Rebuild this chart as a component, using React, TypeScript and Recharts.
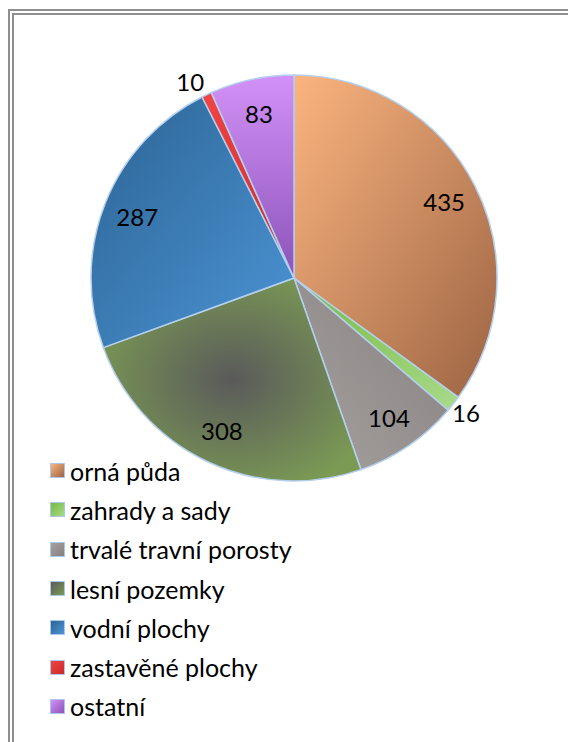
import { PieChart, Pie, Cell } from "recharts"

const categories = [
  "orná půda",
  "zahrady a sady",
  "trvalé travní porosty",
  "lesní pozemky",
  "vodní plochy",
  "zastavěné plochy",
  "ostatní",
]
const values = [435, 16, 104, 308, 287, 10, 83]

// gradient stops per slice: [start, end]
const sliceColors = [
  ["#FBB47F", "#9C6443"],
  ["#74BA40", "#A9DA8A"],
  ["#A5A19F", "#868180"],
  ["#5A5A5A", "#7B9B54"],
  ["#2C6494", "#4C94D5"],
  ["#F24444", "#CC2828"],
  ["#D291F7", "#8B53B8"],
]

const data = categories.map((name, i) => ({ name, value: values[i] }))

const FONT = "Lato, 'Noto Sans', sans-serif"
const RADIAN = Math.PI / 180

const renderLabel = ({ cx, cy, midAngle, outerRadius, percent, value }: any) => {
  const cos = Math.cos(-midAngle * RADIAN)
  const sin = Math.sin(-midAngle * RADIAN)
  if (percent < 0.02) {
    // small slices: label sits just outside the rim
    const r = outerRadius + 1
    const x = cx + r * cos
    const y = cy + r * sin
    return (
      <text
        x={x - 2}
        y={sin >= 0 ? y + 8 : y - 12}
        fill="#000"
        textAnchor={cos >= 0 ? "start" : "end"}
        dominantBaseline="central"
        style={{ fontFamily: FONT, fontSize: 24 }}
      >
        {value}
      </text>
    )
  }
  const r = outerRadius * 0.83
  return (
    <text
      x={cx + r * cos}
      y={cy + r * sin}
      fill="#000"
      textAnchor="middle"
      dominantBaseline="central"
      style={{ fontFamily: FONT, fontSize: 24 }}
    >
      {value}
    </text>
  )
}

function ChartLegend() {
  return (
    <div style={{ position: "absolute", left: 50, top: 451, fontFamily: FONT, fontSize: 25, color: "#000" }}>
      {categories.map((name, i) => (
        <div key={name} style={{ display: "flex", alignItems: "center", height: 39.3, whiteSpace: "nowrap" }}>
          <div
            style={{
              width: 13,
              height: 13,
              border: "1.5px solid #A9C8EA",
              background: `linear-gradient(135deg, ${sliceColors[i][0]}, ${sliceColors[i][1]})`,
              marginRight: 5,
              boxSizing: "content-box",
            }}
          />
          <span>{name}</span>
        </div>
      ))}
    </div>
  )
}

export default function App() {
  return (
    <div style={{ position: "fixed", left: 0, top: 0, width: 568, height: 742, background: "#fff", overflow: "hidden" }}>
      <div
        style={{
          position: "absolute",
          left: 8,
          top: 9,
          width: 600,
          height: 800,
          borderTop: "6px double #8E8E8E",
          borderLeft: "6px double #8E8E8E",
        }}
      />
      <div style={{ position: "absolute", left: 0, top: 0 }}>
        <PieChart width={568} height={742} margin={{ top: 0, right: 0, bottom: 0, left: 0 }}>
          <defs>
            <linearGradient id="g0" x1="0" y1="0" x2="1" y2="1">
              <stop offset="0%" stopColor={sliceColors[0][0]} />
              <stop offset="100%" stopColor={sliceColors[0][1]} />
            </linearGradient>
            <linearGradient id="g1" x1="0" y1="0" x2="1" y2="1">
              <stop offset="0%" stopColor={sliceColors[1][0]} />
              <stop offset="100%" stopColor={sliceColors[1][1]} />
            </linearGradient>
            <linearGradient id="g2" x1="1" y1="0" x2="0" y2="1">
              <stop offset="0%" stopColor={sliceColors[2][1]} />
              <stop offset="100%" stopColor={sliceColors[2][0]} />
            </linearGradient>
            <radialGradient id="g3" cx="0.5" cy="0.5" r="0.6">
              <stop offset="0%" stopColor={sliceColors[3][0]} />
              <stop offset="100%" stopColor={sliceColors[3][1]} />
            </radialGradient>
            <linearGradient id="g4" x1="0" y1="0" x2="1" y2="1">
              <stop offset="0%" stopColor={sliceColors[4][0]} />
              <stop offset="100%" stopColor={sliceColors[4][1]} />
            </linearGradient>
            <linearGradient id="g5" x1="0" y1="0" x2="1" y2="1">
              <stop offset="0%" stopColor={sliceColors[5][0]} />
              <stop offset="100%" stopColor={sliceColors[5][1]} />
            </linearGradient>
            <linearGradient id="g6" x1="0" y1="0" x2="0" y2="1">
              <stop offset="0%" stopColor={sliceColors[6][0]} />
              <stop offset="100%" stopColor={sliceColors[6][1]} />
            </linearGradient>
          </defs>
          <Pie
            data={data}
            dataKey="value"
            nameKey="name"
            cx={294}
            cy={278}
            outerRadius={203}
            startAngle={90}
            endAngle={-270}
            stroke="#B4D0EE"
            strokeWidth={1.5}
            labelLine={false}
            label={renderLabel}
            isAnimationActive={false}
          >
            {data.map((_, i) => (
              <Cell key={`cell-${i}`} fill={`url(#g${i})`} />
            ))}
          </Pie>
        </PieChart>
      </div>
      <ChartLegend />
    </div>
  )
}
